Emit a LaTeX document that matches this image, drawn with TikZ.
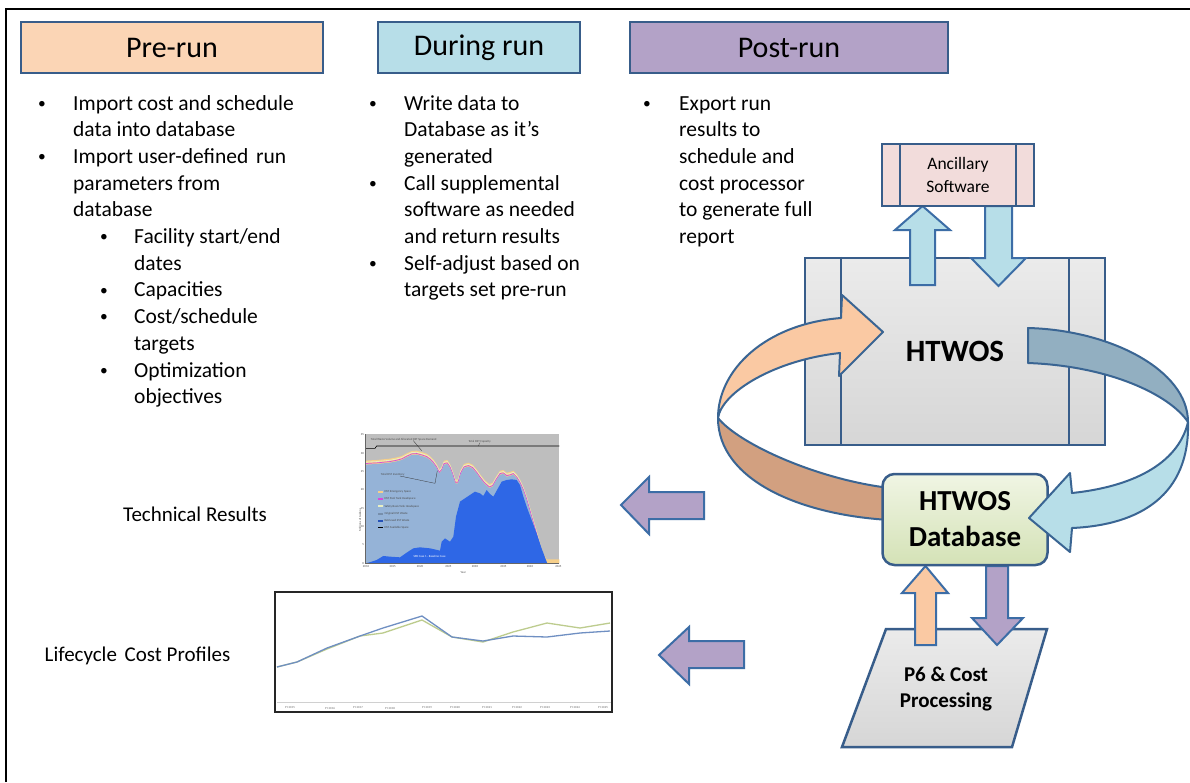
\documentclass[tikz,border=0pt]{standalone}
\usepackage{fontspec}
\setmainfont{Carlito}
\definecolor{bord}{HTML}{385D8A}
\definecolor{arrbord}{HTML}{3C6DA6}
\definecolor{ringbord}{HTML}{3A6593}
\definecolor{peach}{HTML}{FBD5B5}
\definecolor{peachA}{HTML}{FAC9A3}
\definecolor{tanband}{HTML}{D2A080}
\definecolor{skyb}{HTML}{B7DEE8}
\definecolor{steel}{HTML}{92AFC1}
\definecolor{lilac}{HTML}{B3A2C7}
\definecolor{rose}{HTML}{F2DCDB}
\definecolor{greyA}{HTML}{EBEBEB}
\definecolor{greyB}{HTML}{D6D6D6}
\definecolor{greenA}{HTML}{F0F5E4}
\definecolor{greenB}{HTML}{D4E2B6}
\definecolor{plotgrey}{HTML}{BEBEBE}
\definecolor{bandO}{HTML}{F6CF8A}
\definecolor{bandM}{HTML}{D84CD8}
\definecolor{bandP}{HTML}{E9F0C4}
\definecolor{invblue}{HTML}{95B3D7}
\definecolor{wasteblue}{HTML}{2E67E6}
\definecolor{lcblue}{HTML}{6F8FC2}
\definecolor{lcgreen}{HTML}{BDCC8E}
\definecolor{axgrey}{HTML}{D0D0D0}
\newcommand{\dotmark}{\raisebox{1.8pt}{\scalebox{0.72}{•}}}
\begin{document}
\begin{tikzpicture}[x=1pt,y=-1pt,
  hdr/.style={draw=bord, line width=2.5pt, minimum height=51pt, inner sep=0pt,
              font=\fontsize{30}{36}\selectfont},
  txt/.style={anchor=base west, inner sep=0pt, font=\fontsize{21.5}{26}\selectfont},
  lbl/.style={inner sep=0pt, font=\fontsize{21}{26}\selectfont},
  blk/.style={draw=arrbord, line width=2pt, line join=miter},
  ring/.style={draw=ringbord, line width=2pt, line join=round},
  tiny/.style={inner sep=0pt, font=\fontsize{3}{3.5}\selectfont, text=black!70},
]
\useasboundingbox (0,0) rectangle (1190,782);
\fill[white] (0,0) rectangle (1190,782);
% page frame
\draw[line width=1.5pt] (6,782) -- (6,9) -- (1190,9);

% ---------- column headers ----------
\node[hdr, fill=peach, minimum width=302pt] (pre) at (172,47.5) {Pre-run};
\node[hdr, fill=skyb, minimum width=202pt] (during) at (479,47.5) {During run};
\node[hdr, fill=lilac, minimum width=318pt] (post) at (789,47.5) {Post-run};

% ---------- pre-run bullets ----------
\node[txt] (prb1) at (38,110) {\dotmark};
\node[txt] (pr1) at (73,110) {Import cost and schedule};
\node[txt] (pr2) at (73,136.7) {data into database};
\node[txt] (prb3) at (38,163.4) {\dotmark};
\node[txt] (pr3) at (73,163.4) {Import user-defined\hspace{3pt} run};
\node[txt] (pr4) at (73,190.1) {parameters from};
\node[txt] (pr5) at (73,216.8) {database};
\node[txt] (prb6) at (100,243.5) {\dotmark};
\node[txt] (pr6) at (134,243.5) {Facility start/end};
\node[txt] (pr7) at (134,270.2) {dates};
\node[txt] (prb8) at (100,296.9) {\dotmark};
\node[txt] (pr8) at (134,296.9) {Capacities};
\node[txt] (prb9) at (100,323.6) {\dotmark};
\node[txt] (pr9) at (134,323.6) {Cost/schedule};
\node[txt] (pr10) at (134,350.3) {targets};
\node[txt] (prb11) at (100,377) {\dotmark};
\node[txt] (pr11) at (134,377) {Optimization};
\node[txt] (pr12) at (134,403.7) {objectives};

% ---------- during-run bullets ----------
\node[txt] (drb1) at (369,110) {\dotmark};
\node[txt] (dr1) at (404,110) {Write data to};
\node[txt] (dr2) at (404,136.7) {Database as it’s};
\node[txt] (dr3) at (404,163.4) {generated};
\node[txt] (drb4) at (369,190.1) {\dotmark};
\node[txt] (dr4) at (404,190.1) {Call supplemental};
\node[txt] (dr5) at (404,216.8) {software as needed};
\node[txt] (dr6) at (404,243.5) {and return results};
\node[txt] (drb7) at (369,270.2) {\dotmark};
\node[txt] (dr7) at (404,270.2) {Self-adjust based on};
\node[txt] (dr8) at (404,296.9) {targets set pre-run};

% ---------- post-run bullets ----------
\node[txt] (psb1) at (643,110) {\dotmark};
\node[txt] (ps1) at (679,110) {Export run};
\node[txt] (ps2) at (679,136.7) {results to};
\node[txt] (ps3) at (679,163.4) {schedule and};
\node[txt] (ps4) at (679,190.1) {cost processor};
\node[txt] (ps5) at (679,216.8) {to generate full};
\node[txt] (ps6) at (679,243.5) {report};

% ---------- HTWOS process box ----------
\node[draw=bord, line width=2.5pt, top color=greyA, bottom color=greyB,
      minimum width=300pt, minimum height=187pt, inner sep=0pt,
      font=\bfseries\fontsize{31}{36}\selectfont] (htwos) at (955,351.5) {HTWOS};
\draw[bord, line width=1.8pt] ([xshift=37pt]htwos.north west) -- ([xshift=37pt]htwos.south west);
\draw[bord, line width=1.8pt] ([xshift=-37pt]htwos.north east) -- ([xshift=-37pt]htwos.south east);

% arrows between HTWOS and ancillary software
\path[blk, fill=skyb] (910,285) -- (910,230) -- (895,230) -- (922.5,206) -- (950,230)
  -- (935,230) -- (935,285) -- cycle;
\path[blk, fill=skyb] (985,206) -- (985,258) -- (971,258) -- (998.5,286) -- (1026,258)
  -- (1012,258) -- (1012,206) -- cycle;

% ---------- ancillary software ----------
\node[draw=bord, line width=2.5pt, fill=rose, minimum width=152pt, minimum height=62pt,
      inner sep=0pt, align=center, font=\fontsize{17.5}{23}\selectfont] (anc) at (958,175)
      {Ancillary\\Software};
\draw[bord, line width=2pt] ([xshift=19pt]anc.north west) -- ([xshift=19pt]anc.south west);
\draw[bord, line width=2pt] ([xshift=-19pt]anc.north east) -- ([xshift=-19pt]anc.south east);

% ---------- loop arrow round HTWOS ----------
\path[ring, fill=peachA] (840,353) -- (839,376) -- (883,332) -- (842,295) -- (841,318)
  .. controls (765,324) and (718,370) .. (718,418)
  .. controls (722,392) and (775,360) .. (840,353) -- cycle;
\path[ring, fill=steel] (1028,328) .. controls (1110,330) and (1188,370) .. (1188,422)
  .. controls (1170,395) and (1110,366) .. (1028,363) -- cycle;
\path[ring, fill=tanband] (718,418) .. controls (718,480) and (800,515) .. (890,520)
  -- (890,488) .. controls (820,480) and (740,445) .. (718,418) -- cycle;

% ---------- P6 & cost processing ----------
\path[draw=bord, line width=2.5pt, top color=greyA, bottom color=greyB, line join=miter]
  (886,629) -- (1047,629) -- (1012,747) -- (842,747) -- cycle;
\node[inner sep=0pt, align=center, font=\bfseries\fontsize{21}{26}\selectfont] (p6)
  at (946,689) {P6 \& Cost\\Processing};

% arrows between database and P6
\path[blk, fill=peachA] (915,645) -- (915,593) -- (902,593) -- (925.5,566) -- (948,593)
  -- (936,593) -- (936,645) -- cycle;
\path[blk, fill=lilac] (986,566) -- (986,618) -- (972,618) -- (997,645) -- (1023,618)
  -- (1008,618) -- (1008,566) -- cycle;

% ---------- HTWOS database ----------
\node[draw=bord, line width=2.5pt, rounded corners=12pt, top color=greenA, bottom color=greenB,
      minimum width=165pt, minimum height=91pt, inner sep=0pt, align=center,
      font=\bfseries\fontsize{29}{36}\selectfont] (db) at (965,519.5) {HTWOS\\Database};

\path[ring, fill=skyb] (1188,422) .. controls (1190,495) and (1140,525) .. (1072,528)
  -- (1070,552) -- (1029,518) -- (1070,473) -- (1072,493)
  .. controls (1130,487) and (1178,465) .. (1188,422) -- cycle;

% ---------- result arrows ----------
\path[blk, fill=lilac] (704,492) -- (649,492) -- (649,477) -- (621,505) -- (649,534)
  -- (649,519) -- (704,519) -- cycle;
\path[blk, fill=lilac] (744,641) -- (689,641) -- (689,627) -- (659,655) -- (689,684)
  -- (689,668) -- (744,668) -- cycle;

\node[lbl] (techlbl) at (195,514) {Technical Results};
\node[lbl] (lclbl) at (137.5,656) {Lifecycle\hspace{3pt} Cost Profiles};

% ---------- technical results chart ----------
\begin{scope}[xshift=350pt, yshift=-420pt, x=0.3333pt, y=-0.3333pt]
  \begin{scope}
    \clip (45,42) rectangle (628,430);
    \fill[plotgrey] (45,42) rectangle (628,430);
    \fill[bandO] (45,430) -- plot coordinates {(45,122) (60,121) (80,120) (100,118) (120,116)
      (140,112) (155,108) (170,100) (185,93) (200,92) (215,96) (230,101) (240,108) (250,118)
      (260,132) (268,148) (275,140) (282,122) (292,120) (300,132) (308,152) (316,178)
      (324,178) (332,150) (342,132) (355,128) (368,134) (380,148) (392,165) (404,180)
      (418,192) (428,188) (438,170) (450,152) (460,150) (470,158) (480,156) (490,152)
      (500,162) (510,178) (520,200) (530,228) (542,270) (555,315) (568,362) (580,400)
      (590,418)} -- (628,418) -- (628,430) -- cycle;
    \draw[bandP, line width=0.8pt, yshift=-1.6pt] plot coordinates {(45,122) (60,121) (80,120)
      (100,118) (120,116) (140,112) (155,108) (170,100) (185,93) (200,92) (215,96) (230,101)
      (240,108) (250,118) (260,132) (268,148) (275,140) (282,122) (292,120) (300,132)
      (308,152) (316,178) (324,178) (332,150) (342,132) (355,128) (368,134) (380,148)
      (392,165) (404,180) (418,192) (428,188) (438,170) (450,152) (460,150) (470,158)
      (480,156) (490,152) (500,162) (510,178) (520,200) (530,228) (542,270) (555,315)
      (568,362) (580,400)};
    \draw[bandM, line width=0.7pt, yshift=-2.9pt] plot coordinates {(45,122) (60,121) (80,120)
      (100,118) (120,116) (140,112) (155,108) (170,100) (185,93) (200,92) (215,96) (230,101)
      (240,108) (250,118) (260,132) (268,148) (275,140) (282,122) (292,120) (300,132)
      (308,152) (316,178) (324,178) (332,150) (342,132) (355,128) (368,134) (380,148)
      (392,165) (404,180) (418,192) (428,188) (438,170) (450,152) (460,150) (470,158)
      (480,156) (490,152) (500,162) (510,178) (520,200) (530,228) (542,270) (555,315)
      (568,362) (580,400)};
    \fill[invblue, yshift=-4pt] (45,430) -- plot coordinates {(45,122) (60,121) (80,120)
      (100,118) (120,116) (140,112) (155,108) (170,100) (185,93) (200,92) (215,96) (230,101)
      (240,108) (250,118) (260,132) (268,148) (275,140) (282,122) (292,120) (300,132)
      (308,152) (316,178) (324,178) (332,150) (342,132) (355,128) (368,134) (380,148)
      (392,165) (404,180) (418,192) (428,188) (438,170) (450,152) (460,150) (470,158)
      (480,156) (490,152) (500,162) (510,178) (520,200) (530,228) (542,270) (555,315)
      (568,362) (580,400) (590,418)} -- cycle;
    \fill[wasteblue] (45,430) -- plot coordinates {(48,430) (65,425) (80,420) (100,408)
      (120,410) (150,412) (170,398) (190,385) (210,382) (240,385) (262,390) (270,392)
      (275,365) (285,355) (300,365) (310,350) (318,290) (330,245) (345,235) (360,225)
      (375,215) (390,220) (400,228) (410,210) (420,222) (430,230) (440,212) (455,185)
      (470,180) (485,178) (500,180) (510,195) (520,230) (530,260) (545,300) (560,340)
      (575,385) (588,420) (592,430)} -- cycle;
    \draw[black, line width=0.6pt] (45,85) -- (75,85) -- (80,78) -- (628,78);
    \draw[black!80, line width=0.3pt] (150,168) -- (255,190) -- (262,152);
    \draw[black!80, line width=0.3pt] (190,62) -- (215,92);
    \draw[black!80, line width=0.3pt] (390,68) -- (385,78);
  \end{scope}
  \draw[black!60, line width=0.4pt] (45,42) -- (45,430) -- (628,430);
  \node[tiny, anchor=west] (t1) at (62,58) {Total Waste Volume and Allocated DST Space Demand};
  \node[tiny, anchor=west] (t2) at (355,64) {Total DST Capacity};
  \node[tiny, anchor=west] (t3) at (92,165) {Total DST Inventory};
  \node[tiny, anchor=west, text=white] (t4) at (190,408) {SPB Case 1 - Baseline Case};
  % legend
  \fill[bandO] (85,212) rectangle (100,218);
  \node[tiny, anchor=west] (lg1) at (103,215) {DST Emergency Space};
  \fill[bandM] (85,234) rectangle (100,240);
  \node[tiny, anchor=west] (lg2) at (103,237) {DST Pool Tank Headspace};
  \fill[bandP] (85,256) rectangle (100,262);
  \node[tiny, anchor=west] (lg3) at (103,259) {Safety Basis Tank Headspace};
  \fill[invblue!80!black] (85,278) rectangle (100,284);
  \node[tiny, anchor=west] (lg4) at (103,281) {Original DST Waste};
  \fill[wasteblue!80!black] (85,299) rectangle (100,305);
  \node[tiny, anchor=west] (lg5) at (103,302) {Retrieved SST Waste};
  \draw[black, line width=0.6pt] (85,322) -- (100,322);
  \node[tiny, anchor=west] (lg6) at (103,322) {DST Available Space};
  % axes labels
  \foreach \yv/\lab [count=\k] in {430/0,375/5,320/10,265/15,210/20,155/25,100/30,45/35}
    \node[tiny, anchor=east] (ty\k) at (42,\yv) {\lab};
  \foreach \xv/\lab [count=\k] in {48/2010,128/2015,210/2020,295/2025,375/2030,460/2035,540/2040,625/2045}
    \node[tiny, anchor=north] (tx\k) at (\xv,436) {\lab};
  \node[tiny, anchor=north] (xlab) at (340,455) {Year};
  \node[tiny, rotate=90] (ylab) at (30,300) {Millions of Gallons};
\end{scope}

% ---------- lifecycle cost chart ----------
\fill[white] (275,592) rectangle (612,712);
\draw[axgrey, line width=0.6pt] (277,702) -- (611,702);
\draw[lcgreen, line width=1.3pt, line join=round] plot coordinates {(277,667) (297,662) (327,649)
  (360,636) (383,633) (422,620) (452,637) (483,642) (513,632) (547,623) (580,628) (610,623)};
\draw[lcblue, line width=1.3pt, line join=round] plot coordinates {(277,667) (297,662) (327,648)
  (360,636) (383,628) (422,616) (452,637) (483,641) (513,636) (547,637) (580,633) (610,631)};
\foreach \xv/\lab [count=\k] in {290/FY 2015,330/FY 2016,358/FY 2017,390/FY 2018,427/FY 2019,
  455/FY 2020,487/FY 2021,517/FY 2022,545/FY 2023,575/FY 2024,603/FY 2025}
  \node[inner sep=0pt, font=\fontsize{3}{3.5}\selectfont, text=black!60] (fy\k) at (\xv,708) {\lab};
\draw[black!85, line width=1.6pt] (275,592) rectangle (612,712);
\end{tikzpicture}
\end{document}
